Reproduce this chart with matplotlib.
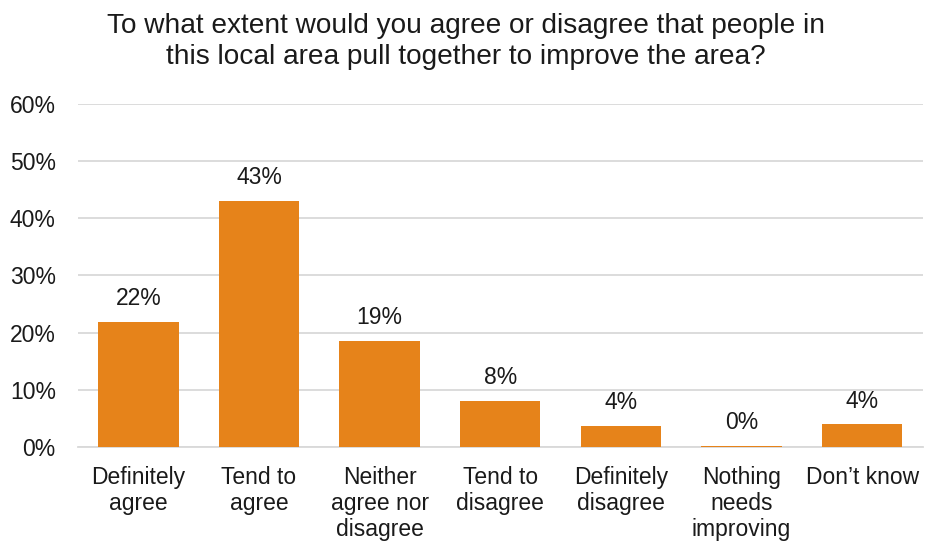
import matplotlib.pyplot as plt
import numpy as np

plt.rcParams['font.family'] = ['Liberation Sans', 'DejaVu Sans']

categories = ['Definitely\nagree', 'Tend to\nagree', 'Neither\nagree nor\ndisagree',
              'Tend to\ndisagree', 'Definitely\ndisagree', 'Nothing\nneeds\nimproving',
              'Don\u2019t know']
values = [21.9, 43.1, 18.6, 8.1, 3.7, 0.2, 4.0]
labels = ['22%', '43%', '19%', '8%', '4%', '0%', '4%']

fig = plt.figure(figsize=(9.25, 5.45), dpi=100)
ax = fig.add_axes([0.0843, 0.180, 0.913, 0.629])

x = np.arange(len(categories))
bars = ax.bar(x, values, width=0.667, color='#E6831A', zorder=3)
for b, lab in zip(bars, labels):
    ax.text(b.get_x() + b.get_width() / 2, b.get_height() + 2.0, lab,
            ha='center', va='bottom', fontsize=16.5, color='#1a1a1a')

ax.set_xlim(-0.5, len(categories) - 0.5)
ax.set_ylim(0, 60)
ax.set_yticks(np.arange(0, 61, 10))
ax.set_yticklabels([f'{v}%' for v in range(0, 61, 10)], fontsize=16.5, color='#1a1a1a')
ax.set_xticks(x)
ax.set_xticklabels(categories, fontsize=16.5, color='#1a1a1a', linespacing=1.17)
ax.tick_params(axis='both', length=0)
ax.tick_params(axis='x', pad=14)
ax.tick_params(axis='y', pad=16)
ax.grid(axis='y', color='#d9d9d9', linewidth=1.3, zorder=0)
for s in ['top', 'right', 'left']:
    ax.spines[s].set_visible(False)
ax.spines['bottom'].set_color('#d9d9d9')
ax.spines['bottom'].set_linewidth(1.3)

fig.text(0.504, 0.924, 'To what extent would you agree or disagree that people in\n'
         'this local area pull together to improve the area?',
         ha='center', va='center', fontsize=20.2, color='#1a1a1a', linespacing=1.27)

fig.savefig('out.png', dpi=100)
